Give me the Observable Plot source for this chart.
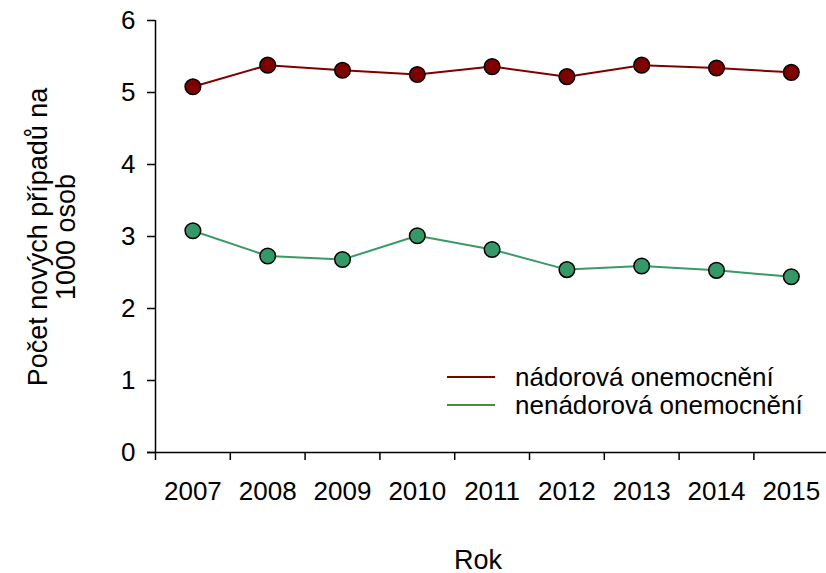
<!DOCTYPE html>
<html>
<head>
<meta charset="utf-8">
<script src="https://cdn.jsdelivr.net/npm/d3@7"></script>
<script src="https://cdn.jsdelivr.net/npm/@observablehq/plot@0.6"></script>
<style>
  html, body { margin: 0; padding: 0; background: #fff; }
  #wrap { position: relative; width: 826px; height: 573px; font-family: "Liberation Sans", Arial, sans-serif; color: #000; }
  #wrap svg { position: absolute; left: 0; top: 0; }
  .ytitle { position: absolute; left: 52px; top: 237px; transform: translate(-50%, -50%) rotate(-90deg); text-align: center; font-size: 27px; line-height: 28px; white-space: nowrap; }
  .xtitle { position: absolute; left: 478px; top: 560px; transform: translate(-50%, -50%); font-size: 27px; }
  .legend { position: absolute; left: 447px; top: 363px; font-size: 26px; line-height: 28px; }
  .legend div { display: flex; align-items: center; white-space: nowrap; }
  .legend span.sw { display: inline-block; width: 48px; height: 2.5px; margin-right: 20px; }
</style>
</head>
<body>
<div id="wrap"></div>
<script>
const years = [2007, 2008, 2009, 2010, 2011, 2012, 2013, 2014, 2015];
const nadorova = [5.08, 5.38, 5.31, 5.25, 5.36, 5.22, 5.38, 5.34, 5.28];
const nenadorova = [3.08, 2.73, 2.68, 3.01, 2.82, 2.54, 2.59, 2.53, 2.44];
const yTicks = [0, 1, 2, 3, 4, 5, 6];
const seriesNames = ["nádorová onemocnění", "nenádorová onemocnění"];
const lineColors = ["#800000", "#3a9a66"];
const dotColors = ["#800000", "#339966"];
const legendColors = ["#800000", "#4e8c3a"];

const rows = [];
years.forEach((y, i) => {
  rows.push({year: y, value: nadorova[i], s: 0});
  rows.push({year: y, value: nenadorova[i], s: 1});
});
const edges = years.map(y => y - 0.5);

const chart = Plot.plot({
  width: 826,
  height: 573,
  marginLeft: 155,
  marginRight: 0,
  marginTop: 20,
  marginBottom: 121,
  style: {fontFamily: "Liberation Sans, Arial, sans-serif", fontSize: "26px", color: "#000", background: "transparent"},
  x: {type: "linear", domain: [2006.5, 2015.5], range: [155, 155 + 9 * 74.8]},
  y: {domain: [0, 6], range: [452, 20]},
  marks: [
    Plot.axisY({ticks: yTicks, tickSize: 8, tickPadding: 12, label: null, tickFormat: d => String(d), fontSize: 26, stroke: "#000", strokeWidth: 1.5}),
    Plot.axisX({ticks: edges, tickSize: 8, tickFormat: () => "", label: null, stroke: "#000", strokeWidth: 1.5}),
    Plot.axisX({ticks: years, tickSize: 0, tickPadding: 29, tickFormat: d => String(d), label: null, fontSize: 26}),
    Plot.ruleY([0], {stroke: "#000", strokeWidth: 1.5, insetLeft: -8}),
    Plot.ruleX([2006.5], {y1: 0, y2: 6, stroke: "#000", strokeWidth: 1.5}),
    Plot.line(rows.filter(d => d.s === 0), {x: "year", y: "value", stroke: lineColors[0], strokeWidth: 2}),
    Plot.line(rows.filter(d => d.s === 1), {x: "year", y: "value", stroke: lineColors[1], strokeWidth: 2}),
    Plot.dot(rows.filter(d => d.s === 0), {x: "year", y: "value", r: 7.8, fill: dotColors[0], stroke: "#000", strokeWidth: 1.5}),
    Plot.dot(rows.filter(d => d.s === 1), {x: "year", y: "value", r: 7.8, fill: dotColors[1], stroke: "#000", strokeWidth: 1.5})
  ]
});

const wrap = document.getElementById("wrap");
wrap.appendChild(chart);

const yt = document.createElement("div");
yt.className = "ytitle";
yt.innerHTML = "Počet nových případů na<br>1000 osob";
wrap.appendChild(yt);

const xt = document.createElement("div");
xt.className = "xtitle";
xt.textContent = "Rok";
wrap.appendChild(xt);

const lg = document.createElement("div");
lg.className = "legend";
seriesNames.forEach((n, i) => {
  const row = document.createElement("div");
  const sw = document.createElement("span");
  sw.className = "sw";
  sw.style.background = legendColors[i];
  row.appendChild(sw);
  row.appendChild(document.createTextNode(n));
  lg.appendChild(row);
});
wrap.appendChild(lg);
</script>
</body>
</html>
